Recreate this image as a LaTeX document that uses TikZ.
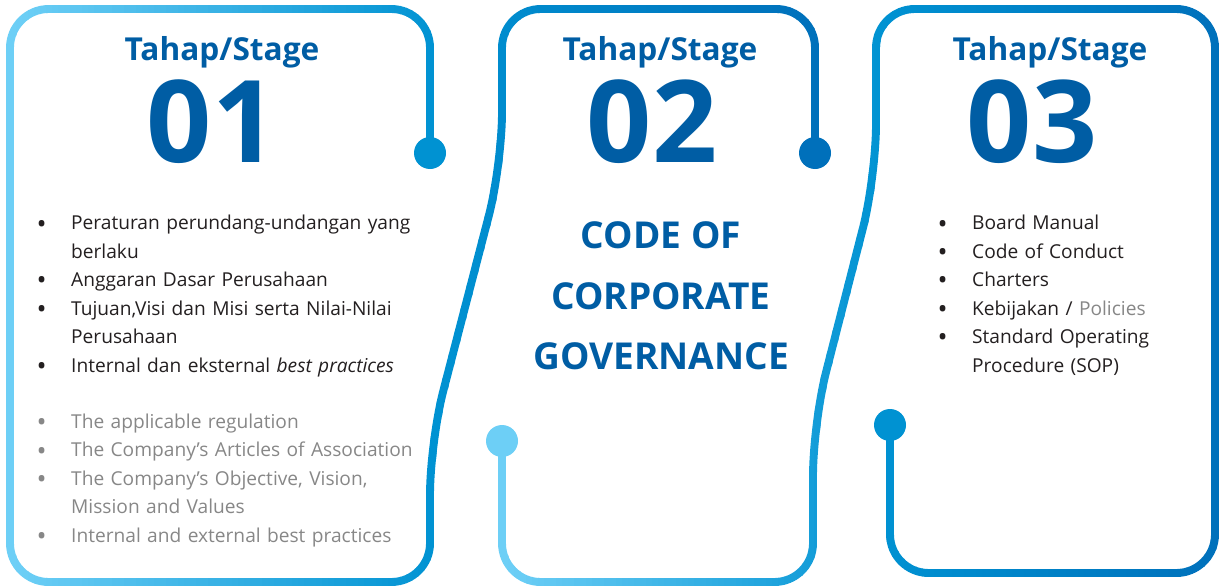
\documentclass[tikz,border=0pt]{standalone}
\usepackage{fontspec}
\setmainfont{Open Sans}
\usepackage{graphicx}
\usepackage{enumitem}
\usetikzlibrary{positioning}

\definecolor{lightblue}{RGB}{109,207,246}
\definecolor{midblue}{RGB}{0,146,210}
\definecolor{darkblue}{RGB}{0,112,187}
\definecolor{titleblue}{RGB}{0,93,164}
\definecolor{textgray}{RGB}{135,135,135}
\definecolor{textblack}{RGB}{35,31,32}

\newcommand\bigbullet{\raisebox{-0.17em}{\scalebox{1.4}{\textbullet}}}
\setlist[itemize]{nosep, label=\bigbullet, leftmargin=20pt, labelsep=14pt}

% panel outlines, pixel coordinates (y down)
\newcommand\outlineA{(430,153) -- (430,9) -- (10,9) -- (10,582) -- (430,582)
  [rounded corners=30] -- (430,442) -- (502,165) [rounded corners=22] -- (502,9) -- (815,9) -- (815,153)}
\newcommand\outlineB{(502,441) -- (502,582) -- (813,582)
  [rounded corners=30] -- (813,423) -- (876,177) [rounded corners=22] -- (876,9) -- (1215,9) -- (1215,573) -- (890,573) -- (890,425)}

\tikzset{
  border/.style  = {line width=4.5pt, rounded corners=22},
  dot/.style     = {circle, inner sep=0pt, minimum size=0.64cm},
  stage/.style   = {font=\fontsize{18}{20}\selectfont\bfseries, text=titleblue,
                    inner sep=0pt, anchor=base},
  num/.style     = {font=\fontsize{65}{65}\selectfont\bfseries, text=titleblue,
                    inner sep=0pt, anchor=base},
  codetitle/.style = {font=\fontsize{21.1}{34.6}\selectfont\bfseries, text=titleblue,
                    align=center, inner sep=0pt, anchor=north},
  lst/.style     = {font=\fontsize{10.9}{16.2}\selectfont, inner sep=0pt,
                    anchor=north west, align=left, text width=#1}
}

\begin{document}
\begin{tikzpicture}[x=0.02cm, y=-0.02cm]
\useasboundingbox (0,0) rectangle (1222,585);

% first outline, shaded left to right in thin strips
\foreach \x in {4,10,...,832} {
  \ifnum\x<430
    \pgfmathtruncatemacro\p{max(0,min(100,(\x-10)/4.2))}
    \colorlet{edgecol}{midblue!\p!lightblue}
  \else
    \pgfmathtruncatemacro\p{min(100,(\x-430)/3.85)}
    \colorlet{edgecol}{darkblue!\p!midblue}
  \fi
  \begin{scope}
    \clip (\x,-10) rectangle ++(6.6,610);
    \draw[border, edgecol] \outlineA;
  \end{scope}
}

% second outline
\foreach \x in {490,496,...,1222} {
  \ifnum\x<876
    \pgfmathtruncatemacro\p{max(0,min(100,(\x-502)/3.74))}
    \colorlet{edgecol}{midblue!\p!lightblue}
  \else
    \pgfmathtruncatemacro\p{min(100,(\x-876)/3.39)}
    \colorlet{edgecol}{darkblue!\p!midblue}
  \fi
  \begin{scope}
    \clip (\x,-10) rectangle ++(6.6,610);
    \draw[border, edgecol] \outlineB;
  \end{scope}
}

% end dots
\node[dot, fill=midblue]   (d1) at (430,153) {};
\node[dot, fill=darkblue]  (d2) at (815,153) {};
\node[dot, fill=lightblue] (d3) at (502,441) {};
\node[dot, fill=midblue]   (d4) at (890,425) {};

% stage headings
\node[stage] (s1) at (222,60)  {Tahap/Stage};
\node[stage] (s2) at (660,60)  {Tahap/Stage};
\node[stage] (s3) at (1050,60) {Tahap/Stage};
\node[num] (n1) at (212,162)  {01};
\node[num] (n2) at (652,162)  {02};
\node[num] (n3) at (1032,162) {03};

\node[codetitle] (c2) at (661,221) {CODE OF\\CORPORATE\\GOVERNANCE};

% lists
\node[lst=8cm, text=textblack] (l1) at (35.7,201) {
  \begin{itemize}
    \item Peraturan perundang-undangan yang\\berlaku
    \item Anggaran Dasar Perusahaan
    \item Tujuan,Visi dan Misi serta Nilai-Nilai\\Perusahaan
    \item Internal dan eksternal \textit{best practices}
  \end{itemize}};
\node[lst=8cm, text=textgray, below=0.45cm of l1] (l2) {
  \begin{itemize}
    \item The applicable regulation
    \item The Company’s Articles of Association
    \item The Company’s Objective, Vision,\\Mission and Values
    \item Internal and external best practices
  \end{itemize}};
\node[lst=5.5cm, text=textblack] (l3) at (936.7,201) {
  \begin{itemize}
    \item Board Manual
    \item Code of Conduct
    \item Charters
    \item Kebijakan / \textcolor{textgray}{Policies}
    \item Standard Operating\\Procedure (SOP)
  \end{itemize}};
\end{tikzpicture}
\end{document}
